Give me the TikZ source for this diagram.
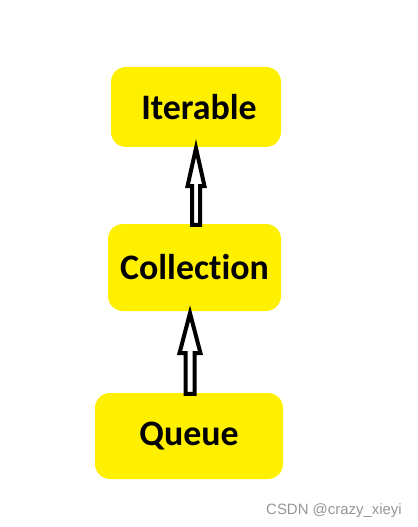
\documentclass[tikz,border=0pt]{standalone}
\usepackage{fontspec}
\setmainfont[Ligatures={NoCommon}]{Carlito}
\newfontfamily\wmfont{Liberation Sans}
\usetikzlibrary{calc}
\definecolor{boxyellow}{RGB}{255,240,0}
\definecolor{wmgray}{RGB}{150,150,150}
\tikzset{
  box/.style={fill=boxyellow, rounded corners=15bp, inner sep=0pt,
    font=\fontsize{36}{42}\selectfont\bfseries, text=black},
  blockarrow/.style={draw=black, fill=white, line width=4bp, line join=miter},
}
\newcommand{\myblockarrow}[5]{% start, tip, head length, head half width, shaft half width
  \draw[blockarrow] let \p1=#1, \p2=#2 in
    (\x1-#5,\y1) -- (\x1-#5,\y2-#3) -- (\x1-#4,\y2-#3) -- (\x1,\y2)
    -- (\x1+#4,\y2-#3) -- (\x1+#5,\y2-#3) -- (\x1+#5,\y1) -- cycle;}
\begin{document}
\begin{tikzpicture}[x=1bp,y=1bp]
  \useasboundingbox (0,0) rectangle (417,-527);
  \node[box, minimum width=170bp, minimum height=80bp] (iter) at (196,-107) {\hspace{6bp}Iterable};
  \node[box, minimum width=173bp, minimum height=87bp] (coll) at (194.5,-267.5) {Collection\hspace{3bp}};
  \node[box, minimum width=188bp, minimum height=86bp] (queue) at (189,-436) {Queue};
  \myblockarrow{($(coll.north)+(1.5,-1)$)}{($(iter.south)+(0,-1)$)}{38bp}{8.5bp}{4bp}
  \myblockarrow{($(queue.north)+(1,-1)$)}{($(coll.south)+(0,-2)$)}{40bp}{10.5bp}{4.5bp}
  \node[anchor=base east, font=\wmfont\fontsize{15}{18}\selectfont, text=wmgray, inner sep=0pt] (wm) at (402,-514) {CSDN @crazy\_xieyi};
\end{tikzpicture}
\end{document}
